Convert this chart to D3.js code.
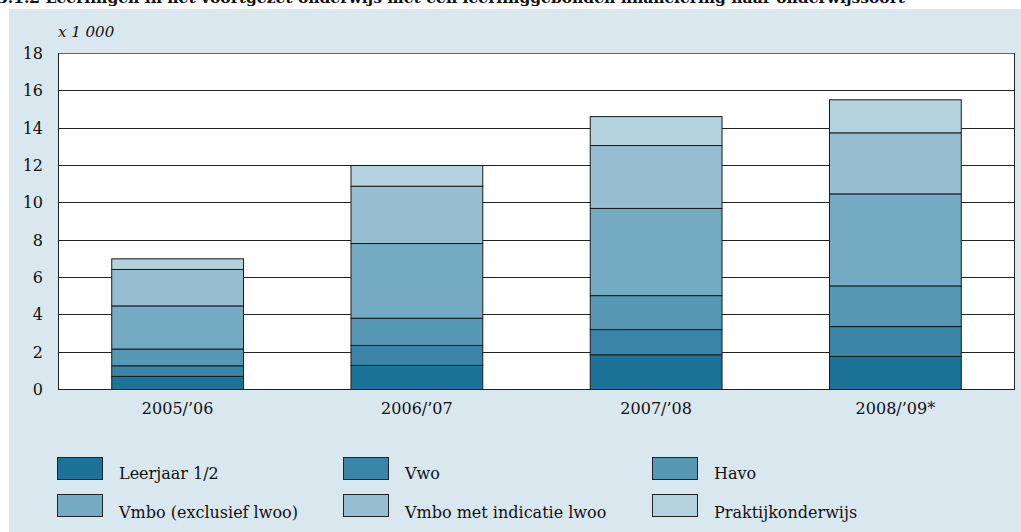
<!DOCTYPE html>
<html>
<head>
<meta charset="utf-8">
<script src="https://cdn.jsdelivr.net/npm/d3@7"></script>
<style>
  html, body { margin: 0; padding: 0; background: #ffffff; }
  svg { display: block; }
</style>
</head>
<body>
<svg id="chart" width="1021" height="532"></svg>
<script>
// ---- data ----
const categories = ["2005/\u201906", "2006/\u201907", "2007/\u201908", "2008/\u201909*"];
const seriesNames = ["Leerjaar 1/2", "Vwo", "Havo", "Vmbo (exclusief lwoo)", "Vmbo met indicatie lwoo", "Praktijkonderwijs"];
const leerjaar   = [0.70, 1.29, 1.86, 1.77];
const vwo        = [0.57, 1.07, 1.35, 1.60];
const havo       = [0.90, 1.46, 1.82, 2.18];
const vmboExcl   = [2.31, 4.00, 4.67, 4.93];
const vmboLwoo   = [1.95, 3.07, 3.37, 3.27];
const praktijk   = [0.57, 1.11, 1.55, 1.77];
const yTicks = [0, 2, 4, 6, 8, 10, 12, 14, 16, 18];
const colors = ["#1c739a", "#3a84a7", "#5697b4", "#75aac3", "#96bdd0", "#b4d2dd"];
const title = "3.1.2  Leerlingen in het voortgezet onderwijs met een leerlinggebonden financiering naar onderwijssoort";
const unitLabel = "x 1 000";

const seriesValues = [leerjaar, vwo, havo, vmboExcl, vmboLwoo, praktijk];
const table = categories.map((c, i) => {
  const row = { cat: c };
  seriesNames.forEach((s, j) => row[s] = seriesValues[j][i]);
  return row;
});

const svg = d3.select("#chart");
const fontFam = "'DejaVu Serif', 'Liberation Serif', serif";

// title (clipped at the top)
svg.append("text")
  .attr("x", -3).attr("y", 3)
  .attr("font-family", fontFam).attr("font-weight", "bold")
  .attr("font-size", 15.5).attr("fill", "#111")
  .text(title);

// panel background
svg.append("rect").attr("x", 9).attr("y", 9).attr("width", 1012).attr("height", 523).attr("fill", "#d9e7ef");

const plot = { left: 58, right: 1015, top: 53, bottom: 389 };
const x = d3.scaleBand().domain(categories).range([plot.left, plot.right]).paddingInner(0.445).paddingOuter(0.2225);
const y = d3.scaleLinear().domain([0, 18]).range([plot.bottom, plot.top]);

// plot area
svg.append("rect").attr("x", plot.left).attr("y", plot.top)
  .attr("width", plot.right - plot.left).attr("height", plot.bottom - plot.top)
  .attr("fill", "#ffffff");

// gridlines
svg.append("g").selectAll("line").data(yTicks).join("line")
  .attr("x1", plot.left).attr("x2", plot.right)
  .attr("y1", d => Math.round(y(d)) + 0.5).attr("y2", d => Math.round(y(d)) + 0.5)
  .attr("stroke", d => d === 18 ? "#666" : "#222").attr("stroke-width", 1);

// y axis
const yAxis = d3.axisLeft(y).tickValues(yTicks).tickSize(0).tickPadding(15);
const gy = svg.append("g").attr("transform", `translate(${plot.left},0)`).call(yAxis);
gy.select(".domain").remove();
gy.selectAll("text").attr("font-family", fontFam).attr("font-size", 16).attr("fill", "#111").attr("dy", "0.35em");

// border lines left/right
svg.append("line").attr("x1", plot.left + 0.5).attr("x2", plot.left + 0.5).attr("y1", plot.top).attr("y2", plot.bottom + 1).attr("stroke", "#222");
svg.append("line").attr("x1", plot.right - 0.5).attr("x2", plot.right - 0.5).attr("y1", plot.top).attr("y2", plot.bottom + 1).attr("stroke", "#222");

// x axis labels
const xAxis = d3.axisBottom(x).tickSize(0).tickPadding(14);
const gx = svg.append("g").attr("transform", `translate(0,${plot.bottom})`).call(xAxis);
gx.select(".domain").remove();
gx.selectAll("text").attr("font-family", fontFam).attr("font-size", 16).attr("fill", "#111");

// stacked bars
const stack = d3.stack().keys(seriesNames)(table);
const layers = svg.append("g").selectAll("g").data(stack).join("g")
  .attr("fill", (d, i) => colors[i]);
layers.selectAll("rect").data(d => d).join("rect")
  .attr("x", d => x(d.data.cat) + 0.5)
  .attr("y", d => y(d[1]) + 0.5)
  .attr("width", x.bandwidth() - 1)
  .attr("height", d => y(d[0]) - y(d[1]))
  .attr("stroke", "#1a1a1a").attr("stroke-width", 1);

// unit label
svg.append("text").attr("x", 58).attr("y", 37)
  .attr("font-family", fontFam).attr("font-style", "italic")
  .attr("font-size", 15).attr("fill", "#111").text(unitLabel);

// legend
const legendCols = [57, 343, 652];
const legendRows = [457, 494];
const leg = svg.append("g").selectAll("g").data(seriesNames).join("g")
  .attr("transform", (d, i) => `translate(${legendCols[i % 3]},${legendRows[Math.floor(i / 3)]})`);
leg.append("rect").attr("x", 0.5).attr("y", 0.5).attr("width", 45).attr("height", 22)
  .attr("fill", (d, i) => colors[i]).attr("stroke", "#222").attr("stroke-width", 1);
leg.append("text").attr("x", 62).attr("y", (d, i) => i < 3 ? 22 : 24)
  .attr("font-family", fontFam).attr("font-size", 16).attr("fill", "#111")
  .text(d => d);
</script>
</body>
</html>
